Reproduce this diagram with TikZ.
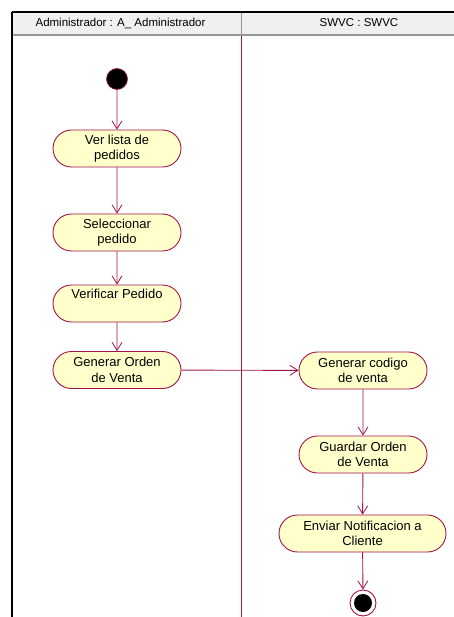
\documentclass[tikz,border=0pt]{standalone}
\usepackage{fontspec}
\setmainfont{Liberation Sans}
\usetikzlibrary{arrows.meta,shapes.misc}
\definecolor{roseline}{RGB}{160,20,70}
\definecolor{rosefill}{RGB}{255,255,204}
\definecolor{headfill}{RGB}{240,240,240}
\definecolor{headline}{RGB}{150,150,150}
\tikzset{
  act/.style={rounded rectangle, draw=roseline, fill=rosefill, line width=0.9pt,
    minimum height=37pt, align=center, inner sep=1pt,
    font=\fontsize{13}{15.5}\selectfont},
  flow/.style={draw=roseline, line width=0.9pt, -{Straight Barb[length=8pt,width=10pt,line width=0.8pt]}},
  hdr/.style={font=\fontsize{11.5}{13}\selectfont, inner sep=0pt}
}
\begin{document}
\begin{tikzpicture}[x=1pt,y=-1pt]
\useasboundingbox (0,0) rectangle (454,617);
% header
\fill[headfill] (12,12) rectangle (454,34);
\draw[headline, line width=2pt] (12,35) -- (454,35);
\draw[headline, line width=0.8pt] (241,12) -- (241,34);
\draw[black, line width=1.6pt] (12,12) -- (454,12);
\draw[black, line width=2pt] (12,12) -- (12,617);
\node[hdr] (h1) at (120.5,23) {Administrador : A\_ Administrador};
\node[hdr] (h2) at (359,23) {SWVC : SWVC};
% lane divider
\draw[roseline, line width=1pt] (241,36) -- (241,617);
% start
\node[circle, fill=black, draw=roseline, line width=0.6pt, minimum size=21pt, inner sep=0pt] (start) at (117,79) {};
% activities
\node[act, minimum width=130pt] (a1) at (117,148.5) {Ver lista de\\pedidos};
\node[act, minimum width=130pt] (a2) at (117,232.5) {Seleccionar\\pedido};
\node[act, minimum width=130pt] (a3) at (117,303.5) {Verificar Pedido\\\strut};
\node[act, minimum width=130pt] (a4) at (117,370) {Generar Orden\\de Venta};
\node[act, minimum width=130pt] (b1) at (363,370.5) {Generar codigo\\de venta};
\node[act, minimum width=130pt] (b2) at (363,454.5) {Guardar Orden\\de Venta};
\node[act, minimum width=169pt] (b3) at (362.5,533.5) {Enviar Notificacion a\\Cliente};
% end
\node[circle, draw=roseline, fill=white, line width=0.9pt, minimum size=26pt, inner sep=0pt] (end) at (363,603) {};
\node[circle, fill=black, minimum size=18pt, inner sep=0pt] (endin) at (end.center) {};
% flows
\draw[flow] (start) -- (a1);
\draw[flow] (a1) -- (a2);
\draw[flow] (a2) -- (a3);
\draw[flow] (a3) -- (a4);
\draw[flow] (a4) -- (b1);
\draw[flow] (b1) -- (b2);
\draw[flow] (b2) -- (b3);
\draw[flow] (b3) -- (end);
\end{tikzpicture}
\end{document}
